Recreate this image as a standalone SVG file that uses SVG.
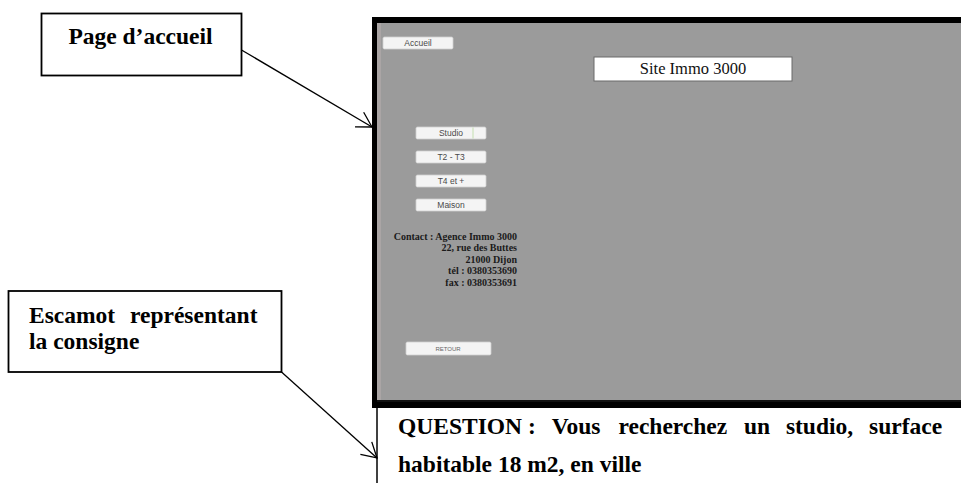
<svg xmlns="http://www.w3.org/2000/svg" width="961" height="483" viewBox="0 0 961 483">
<style>
.lbl{font-family:"Liberation Serif","Times New Roman",serif;font-weight:bold;fill:#000;font-size:23.5px}
.box{fill:#fff;stroke:#000;stroke-width:1.8}
.btn{fill:#f4f4f4;stroke:#d0d0d0;stroke-width:0.8}
.btxt{font-family:"Liberation Sans",Arial,sans-serif;font-size:8.5px;fill:#4a4a4a;text-anchor:middle}
.contact{font-family:"Liberation Serif","Times New Roman",serif;font-weight:bold;font-size:10px;fill:#1a1a1a;text-anchor:end}
.conn{stroke:#000;stroke-width:1.3;fill:none}
</style>
<defs>
<marker id="arr" markerUnits="userSpaceOnUse" markerWidth="20" markerHeight="20" refX="14.7" refY="8.5" orient="auto" overflow="visible">
<path d="M0,0 L14.7,8.5 L0,17" fill="none" stroke="#000" stroke-width="1.3"/>
</marker>
</defs>
<rect width="961" height="483" fill="#fff"/>

<g id="screenshot">
<rect x="372" y="17" width="589" height="391" fill="#000"/>
<rect x="377" y="23" width="584" height="378" fill="#9b9b9b"/>
<rect x="377" y="23" width="4" height="378" fill="#aaa5a5"/>
<rect x="377" y="400" width="584" height="2" fill="#111"/>
<line x1="377" y1="402" x2="377" y2="483" stroke="#000" stroke-width="1.5"/>

<g id="btn-accueil">
<rect class="btn" x="383" y="37" width="70" height="12" rx="1.5"/>
<text class="btxt" x="418" y="46">Accueil</text>
</g>
<g id="title">
<rect x="594" y="57" width="198" height="24" fill="#fff" stroke="#6a6a6a" stroke-width="1"/>
<text x="693" y="74" font-family="Liberation Serif,'Times New Roman',serif" font-size="16.5" fill="#111" text-anchor="middle">Site Immo 3000</text>
</g>
<g id="btn-studio">
<rect class="btn" x="416" y="127" width="70" height="12" rx="1.5" stroke="#b9dca0"/>
<line x1="473" y1="127.5" x2="473" y2="138.5" stroke="#b9dca0" stroke-width="0.8"/>
<text class="btxt" x="451" y="136">Studio</text>
</g>
<g id="btn-t2t3">
<rect class="btn" x="416" y="151" width="70" height="12" rx="1.5"/>
<text class="btxt" x="451" y="160">T2 - T3</text>
</g>
<g id="btn-t4">
<rect class="btn" x="416" y="175" width="70" height="12" rx="1.5"/>
<text class="btxt" x="451" y="184">T4 et +</text>
</g>
<g id="btn-maison">
<rect class="btn" x="416" y="199" width="70" height="12" rx="1.5"/>
<text class="btxt" x="451" y="208">Maison</text>
</g>
<g id="contact">
<text class="contact" x="517" y="240">Contact : Agence Immo 3000</text>
<text class="contact" x="517" y="251">22, rue des Buttes</text>
<text class="contact" x="517" y="263">21000 Dijon</text>
<text class="contact" x="517" y="274">tél : 0380353690</text>
<text class="contact" x="517" y="286">fax : 0380353691</text>
</g>
<g id="btn-retour">
<rect class="btn" x="406" y="342" width="85" height="13" rx="1.5"/>
<text x="448" y="351" font-family="Liberation Sans,Arial,sans-serif" font-size="6" fill="#666" text-anchor="middle">RETOUR</text>
</g>
</g>

<g id="question">
<text class="lbl" y="434"><tspan x="398">QUESTION</tspan><tspan x="528">:</tspan><tspan x="551.7">Vous</tspan><tspan x="618.5">recherchez</tspan><tspan x="743.9">un</tspan><tspan x="785.9">studio,</tspan><tspan x="869">surface</tspan></text>
<text class="lbl" x="398" y="472">habitable 18 m2, en ville</text>
</g>

<g id="page-accueil">
<rect class="box" x="41.5" y="13.5" width="200" height="62"/>
<text class="lbl" x="140.5" y="44" text-anchor="middle">Page d’accueil</text>
</g>

<g id="escamot">
<rect class="box" x="8.5" y="291" width="273" height="81"/>
<text class="lbl" y="323"><tspan x="29">Escamot</tspan><tspan x="130">représentant</tspan></text>
<text class="lbl" x="29" y="349">la consigne</text>
</g>

<g id="connectors">
<line class="conn" x1="241.5" y1="50" x2="372" y2="127" marker-end="url(#arr)"/>
<line class="conn" x1="281.5" y1="372" x2="377" y2="458" marker-end="url(#arr)"/>
</g>
</svg>
